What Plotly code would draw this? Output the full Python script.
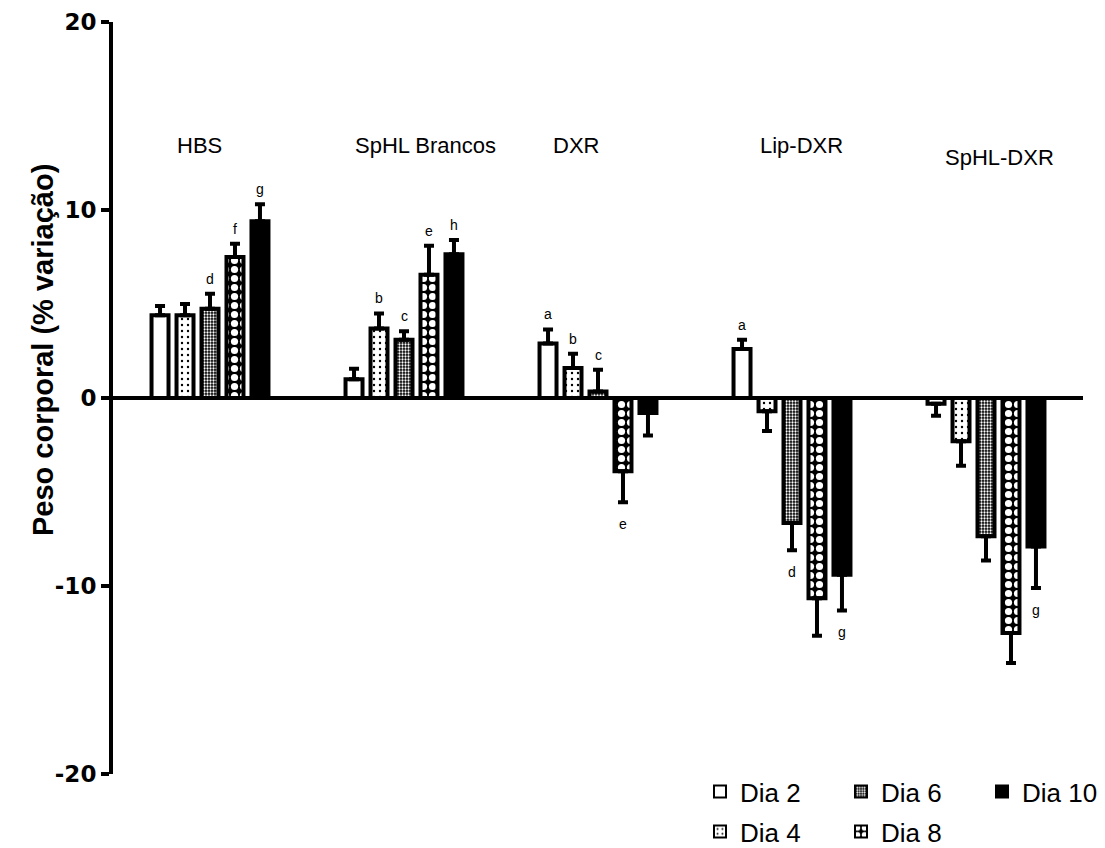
import plotly.graph_objects as go

# Treatment groups (x categories) and sampling days (series)
groups = ["HBS", "SpHL Brancos", "DXR", "Lip-DXR", "SpHL-DXR"]
days = ["Dia 2", "Dia 4", "Dia 6", "Dia 8", "Dia 10"]

# Mean body-weight change (%) per group, one list per day
dia2 = [4.4, 1.0, 2.9, 2.6, -0.3]
dia4 = [4.4, 3.7, 1.6, -0.7, -2.3]
dia6 = [4.75, 3.1, 0.35, -6.65, -7.35]
dia8 = [7.5, 6.55, -3.9, -10.65, -12.5]
dia10 = [9.4, 7.65, -0.8, -9.4, -7.9]

# Standard error of the mean
sem2 = [0.5, 0.55, 0.75, 0.5, 0.65]
sem4 = [0.6, 0.8, 0.75, 1.05, 1.3]
sem6 = [0.8, 0.45, 1.15, 1.45, 1.3]
sem8 = [0.7, 1.55, 1.65, 2.0, 1.6]
sem10 = [0.9, 0.75, 1.2, 1.9, 2.2]

# Significance letters
sig2 = ["", "", "a", "a", ""]
sig4 = ["", "b", "b", "", ""]
sig6 = ["d", "c", "c", "d", ""]
sig8 = ["f", "e", "e", "", ""]
sig10 = ["g", "h", "", "g", "g"]

# Y-axis ticks
y_ticks = [-20, -10, 0, 10, 20]
y_ticktext = ["-20", "-10", "0", "10", "20"]

values = [dia2, dia4, dia6, dia8, dia10]
sems = [sem2, sem4, sem6, sem8, sem10]
sigs = [sig2, sig4, sig6, sig8, sig10]

FONT = "Arial, Liberation Sans, sans-serif"
W, H = 1105, 848
ML, MR, MT, MB = 113, 22, 22, 74
PW, PH = W - ML - MR, H - MT - MB


def px_to_paper(px, py):
    return (px - ML) / PW, (H - MB - py) / PH


# Fill style for each day
fills = [
    dict(color="white", pattern=dict(shape="")),
    dict(color="white", pattern=dict(shape=".", fgcolor="black", bgcolor="white",
                                     size=6, solidity=0.12, fillmode="replace")),
    dict(color="black", pattern=dict(shape=".", fgcolor="white", bgcolor="black",
                                     size=3, solidity=0.45, fillmode="replace")),
    dict(color="black", pattern=dict(shape=".", fgcolor="white", bgcolor="black",
                                     size=9, solidity=0.5, fillmode="replace")),
    dict(color="black", pattern=dict(shape="")),
]
legend_of = ["legend", "legend2", "legend", "legend2", "legend"]

BARGAP = 0.356
x = list(range(len(groups)))

fig = go.Figure()
for d, name in enumerate(days):
    v = values[d]
    e = sems[d]
    fig.add_trace(go.Bar(
        x=x, y=v, name=name,
        legend=legend_of[d],
        marker=dict(color=fills[d]["color"], pattern=fills[d]["pattern"],
                    line=dict(color="black", width=4)),
        error_y=dict(type="data", symmetric=False,
                     array=[s if val >= 0 else 0 for val, s in zip(v, e)],
                     arrayminus=[s if val < 0 else 0 for val, s in zip(v, e)],
                     color="black", thickness=4, width=5),
    ))

# Significance letters placed at the end of each error bar
slot = (1 - BARGAP) / len(days)
annotations = []
for d in range(len(days)):
    for g in range(len(groups)):
        letter = sigs[d][g]
        if not letter:
            continue
        v = values[d][g]
        end = v + sems[d][g] if v >= 0 else v - sems[d][g]
        annotations.append(dict(
            x=g + (d - 2) * slot, y=end, xref="x", yref="y",
            text=letter, showarrow=False,
            font=dict(family=FONT, size=14, color="black"),
            yanchor="middle", yshift=15 if v >= 0 else -22,
        ))

# Group names above the bars
label_y = [13.45, 13.45, 13.45, 13.45, 12.8]
label_dx = [-0.055, 0.11, -0.113, 0.05, 0.07]
for g, name in enumerate(groups):
    annotations.append(dict(
        x=g + label_dx[g], y=label_y[g], xref="x", yref="y",
        text=name, showarrow=False,
        font=dict(family=FONT, size=22, color="black"),
    ))

# Y-axis title
tx, ty = px_to_paper(43, 350)
annotations.append(dict(
    x=tx, y=ty, xref="paper", yref="paper",
    xanchor="center", yanchor="middle",
    text="<b>Peso corporal (% variação)</b>", textangle=-90, showarrow=False,
    font=dict(family=FONT, size=29, color="black"),
))

legend_common = dict(
    orientation="h", xref="paper", yref="paper",
    xanchor="left", yanchor="top",
    font=dict(family=FONT, size=26, color="black"),
    entrywidth=96, entrywidthmode="pixels",
    bgcolor="rgba(0,0,0,0)", borderwidth=0,
    tracegroupgap=0, itemsizing="constant",
)
lx, ly1 = px_to_paper(700, 768)
_, ly2 = px_to_paper(700, 808)

fig.update_layout(
    width=W, height=H,
    margin=dict(l=ML, r=MR, t=MT, b=MB, autoexpand=False),
    paper_bgcolor="white", plot_bgcolor="white",
    barmode="group", bargap=BARGAP, bargroupgap=0.32,
    showlegend=True,
    legend=dict(x=lx, y=ly1, **legend_common),
    legend2=dict(x=lx, y=ly2, **legend_common),
    xaxis=dict(range=[-0.5, 4.5], showline=False, showgrid=False,
               zeroline=False, showticklabels=False, ticks=""),
    yaxis=dict(range=[-20, 20], tickvals=y_ticks, ticktext=y_ticktext,
               showline=True, linecolor="black", linewidth=4,
               ticks="outside", ticklen=8, tickwidth=4, tickcolor="black",
               showgrid=False, zeroline=True, zerolinecolor="black",
               zerolinewidth=4,
               tickfont=dict(family="DejaVu Sans", size=23, color="black",
                             weight="bold")),
    annotations=annotations,
)

fig.write_html("out.html")
